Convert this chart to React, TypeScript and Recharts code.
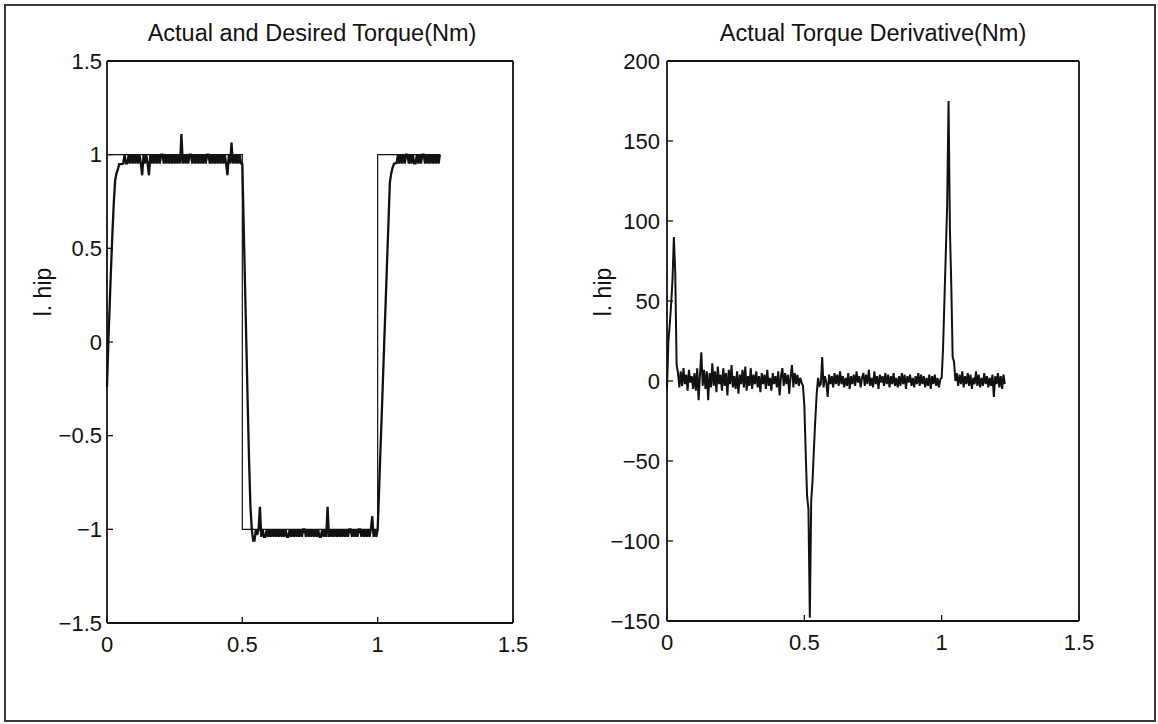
import { LineChart, Line, XAxis, YAxis } from "recharts";

// sample period of the recorded signals (s)
const sampleStep = 0.005;

const xTicks = [0, 0.5, 1, 1.5];
const torqueTicks = [-1.5, -1, -0.5, 0, 0.5, 1, 1.5];
const derivTicks = [-150, -100, -50, 0, 50, 100, 150, 200];

// desired torque: square wave corners
const desiredT = [0, 0.5, 0.5, 1, 1, 1.23];
const desiredTorque = [1, 1, -1, -1, 1, 1];

// actual torque, one value per sample
const actualTorque = [
  -0.24, 0.0, 0.2, 0.4, 0.58, 0.74, 0.86, 0.9, 0.92, 0.95,
  0.95, 0.95, 0.953, 1, 0.953, 0.953, 1, 0.953, 1, 0.953,
  1, 0.953, 1, 0.953, 1, 0.953, 0.89, 1, 0.953, 1,
  0.953, 0.89, 1, 0.953, 1, 0.953, 1, 0.953, 1, 0.953,
  1, 1, 0.953, 1, 0.953, 1, 0.953, 1, 0.953, 1,
  0.953, 1, 0.953, 1, 0.953, 1.11, 0.953, 1, 0.953, 1,
  0.953, 1, 1, 0.953, 1, 0.953, 1, 0.953, 1, 0.953,
  1, 0.953, 1, 0.953, 1, 1, 0.953, 1, 0.953, 1,
  0.953, 1, 0.953, 1, 0.953, 1, 0.953, 1, 0.953, 0.89,
  1, 0.953, 1.065, 0.953, 1, 0.953, 1, 0.953, 1, 0.953,
  0.95, 0.62, 0.3, -0.02, -0.34, -0.64, -0.88, -1.0, -1.06, -1.06,
  -1.0, -1.03, -1.0, -0.88, -1.04, -1.0, -1.04, -1.04, -1.0, -1.04,
  -1.0, -1.04, -1.0, -1.04, -1.0, -1.04, -1.0, -1.04, -1.0, -1.04,
  -1.0, -1.04, -1.0, -1.04, -1.04, -1.0, -1.04, -1.0, -1.04, -1.0,
  -1.04, -1.0, -1.04, -1.0, -1.04, -1.0, -1.0, -1.04, -1.0, -1.04,
  -1.0, -1.04, -1.0, -1.04, -1.0, -1.04, -1.0, -1.04, -1.04, -1.0,
  -1.04, -1.0, -1.04, -0.88, -1.04, -1.0, -1.04, -1.0, -1.04, -1.0,
  -1.04, -1.0, -1.04, -1.0, -1.04, -1.0, -1.04, -1.0, -1.04, -1.0,
  -1.0, -1.04, -1.0, -1.04, -1.0, -1.04, -1.0, -1.0, -1.04, -1.0,
  -1.04, -1.0, -1.04, -1.0, -1.04, -1.0, -0.93, -1.04, -1.0, -1.04,
  -1.0, -0.8, -0.59, -0.39, -0.18, 0.03, 0.23, 0.44, 0.64, 0.85,
  0.9, 0.93, 0.95, 0.955, 0.955, 1, 0.953, 1, 0.953, 1,
  0.953, 1, 1, 0.953, 1, 0.953, 1, 0.953, 0.953, 1,
  0.953, 1, 0.953, 1, 1, 0.953, 1, 0.953, 1, 0.953,
  1, 0.953, 1, 0.953, 1, 0.953, 1,
];

// actual torque derivative, one value per sample
const torqueDerivative = [
  -5, 25, 35, 48, 63, 90, 68, 10, 5, -4,
  6, -3, 8, -2, 4, -6, 7, -1, 3, -5,
  5, -6, 8, -12, 4, 18, -3, 7, -5, 6,
  -12, 5, -4, 11, -3, 6, -7, 9, -2, 4,
  -6, 8, -3, 5, -9, 7, -2, 10, -4, 3,
  -5, 6, -8, 4, -2, 7, -4, 9, -6, 3,
  -3, 8, -5, 4, -2, 6, -4, 3, -7, 5,
  -2, 4, -5, 7, -3, 2, -6, 5, -2, 3,
  -4, 6, -9, 3, 8, -3, 5, -2, 4, -8,
  3, 10, -4, 5, -2, 4, -3, 2, -1, -3,
  -15, -45, -72, -80, -148, -75, -62, -42, -24, -8,
  2, -3, -2, 15, -4, 3, -1, -10, 4, -2,
  3, -4, 5, -2, 4, -3, 6, -2, 3, -4,
  2, -3, 5, -5, 3, -2, 4, -3, 6, -1,
  3, -4, 2, 5, -3, 4, -2, 7, -3, 2,
  -4, 6, -2, 3, -5, 4, -1, 3, -3, 5,
  -2, 4, -4, 3, -2, 5, -3, 2, -4, 3,
  -3, 5, -2, 4, -5, 3, -1, 4, -3, 2,
  -4, 3, -2, 5, -3, 4, -2, 3, -4, 2,
  -3, 4, -5, 3, -2, 4, -3, 2, -4, 1,
  2, 20, 50, 80, 110, 175, 95, 60, 15, 12,
  0, 5, -3, 4, -2, 6, -4, 3, -2, 5,
  -3, 4, -5, 2, -2, 6, -3, 4, -4, 2,
  -3, 5, -2, 3, -4, 2, -3, 4, -10, 3,
  -2, 5, -4, 3, -5, 4, -2,
];

const desiredData = desiredT.map((t, i) => ({ t, y: desiredTorque[i] }));
const actualData = actualTorque.map((y, i) => ({ t: i * sampleStep, y }));
const derivData = torqueDerivative.map((y, i) => ({ t: i * sampleStep, y }));

const FONT = '"Liberation Sans", Arial, Helvetica, sans-serif';
const INK = "#111";

const fmt = (v: number) => (v < 0 ? "\u2212" + Math.abs(v) : String(v));
const blank = () => "";

const tickStyle = { fontSize: 22, fill: INK, fontFamily: FONT };
const axisLine = { stroke: INK, strokeWidth: 1.8 };
const tickLine = { stroke: INK, strokeWidth: 1.3 };

function Frame({ yDomain, yTicks, tickGap }: { yDomain: [number, number]; yTicks: number[]; tickGap: number }) {
  return [
    <XAxis
      key="xb"
      xAxisId="b"
      type="number"
      dataKey="t"
      domain={[0, 1.5]}
      ticks={xTicks}
      interval={0}
      height={40}
      tickSize={-6}
      tickMargin={19}
      tickFormatter={fmt}
      tick={tickStyle}
      axisLine={axisLine}
      tickLine={tickLine}
    />,
    <XAxis
      key="xt"
      xAxisId="t"
      orientation="top"
      type="number"
      dataKey="t"
      domain={[0, 1.5]}
      ticks={xTicks}
      interval={0}
      height={1}
      tickSize={-6}
      tickFormatter={blank}
      axisLine={axisLine}
      tickLine={tickLine}
    />,
    <YAxis
      key="yl"
      yAxisId="l"
      type="number"
      domain={yDomain}
      ticks={yTicks}
      interval={0}
      width={57}
      tickSize={-6}
      tickMargin={tickGap}
      tickFormatter={fmt}
      tick={tickStyle}
      axisLine={axisLine}
      tickLine={tickLine}
    />,
    <YAxis
      key="yr"
      yAxisId="r"
      orientation="right"
      type="number"
      domain={yDomain}
      ticks={yTicks}
      interval={0}
      width={11}
      tickSize={-6}
      tickFormatter={blank}
      axisLine={axisLine}
      tickLine={tickLine}
    />,
  ];
}

const titleStyle = {
  position: "absolute" as const,
  top: 22,
  width: 440,
  textAlign: "center" as const,
  fontFamily: FONT,
  fontSize: 23.5,
  lineHeight: "23px",
  color: INK,
  whiteSpace: "nowrap" as const,
};

const yLabelStyle = {
  position: "absolute" as const,
  top: 281,
  width: 80,
  textAlign: "center" as const,
  fontFamily: FONT,
  fontSize: 23,
  lineHeight: "22px",
  color: INK,
  transform: "rotate(-90deg)",
};

export default function App() {
  return (
    <div style={{ position: "absolute", left: 0, top: 0, width: 1158, height: 724, background: "#fff" }}>
      <div
        style={{
          position: "absolute",
          left: 4,
          top: 4,
          width: 1152,
          height: 718,
          boxSizing: "border-box",
          border: "2px solid #3a3a3a",
        }}
      />

      <div style={{ ...titleStyle, left: 312 - 220 }}>Actual and Desired Torque(Nm)</div>
      <div style={{ ...titleStyle, left: 873 - 220 }}>Actual Torque Derivative(Nm)</div>
      <div style={{ ...yLabelStyle, left: 43 - 40 }}>l. hip</div>
      <div style={{ ...yLabelStyle, left: 603 - 40 }}>l. hip</div>

      <div style={{ position: "absolute", left: 0, top: 0 }}>
        <LineChart width={560} height={700} margin={{ top: 60, left: 50, right: 36, bottom: 37 }}>
          {Frame({ yDomain: [-1.5, 1.5], yTicks: torqueTicks, tickGap: 11 })}
          <Line
            xAxisId="b"
            yAxisId="l"
            data={desiredData}
            dataKey="y"
            type="linear"
            stroke={INK}
            strokeWidth={1.2}
            dot={false}
            isAnimationActive={false}
          />
          <Line
            xAxisId="b"
            yAxisId="l"
            data={actualData}
            dataKey="y"
            type="linear"
            stroke={INK}
            strokeWidth={2.3}
            dot={false}
            isAnimationActive={false}
          />
        </LineChart>
      </div>

      <div style={{ position: "absolute", left: 560, top: 0 }}>
        <LineChart width={598} height={700} margin={{ top: 60, left: 50, right: 68, bottom: 39 }}>
          {Frame({ yDomain: [-150, 200], yTicks: derivTicks, tickGap: 13 })}
          <Line
            xAxisId="b"
            yAxisId="l"
            data={derivData}
            dataKey="y"
            type="linear"
            stroke={INK}
            strokeWidth={2}
            dot={false}
            isAnimationActive={false}
          />
        </LineChart>
      </div>
    </div>
  );
}
